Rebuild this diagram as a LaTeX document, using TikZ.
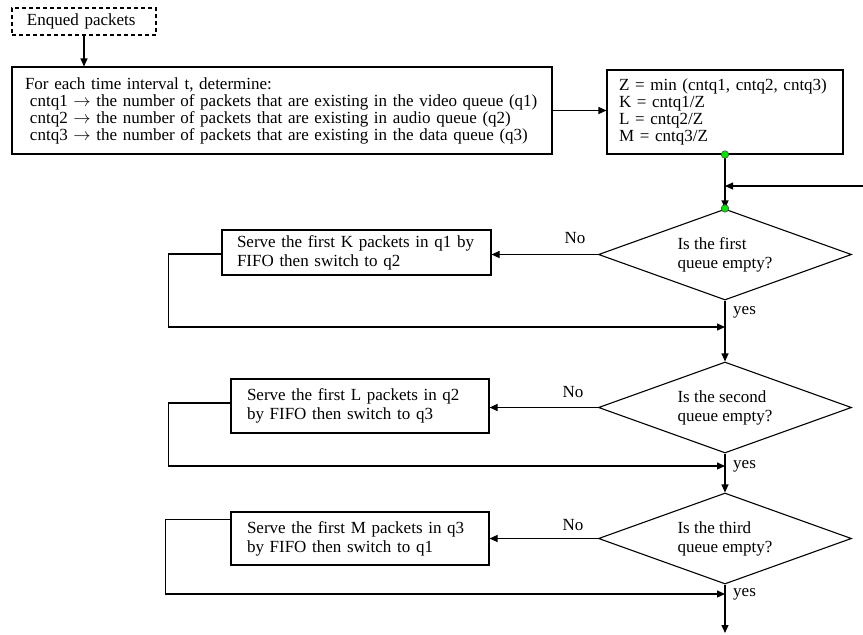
\documentclass[tikz,border=0pt]{standalone}
\usepackage{fontspec}
\setmainfont{Liberation Serif}
\usetikzlibrary{shapes.geometric,arrows.meta}
\definecolor{dotgreen}{RGB}{0,230,0}
\tikzset{
  txt/.style={font=\fontsize{17}{19}\selectfont},
  tight/.style={font=\fontsize{17}{17}\selectfont},
  box/.style={draw, rectangle, line width=1.1pt, inner sep=0pt, align=left, txt},
  dec/.style={draw, diamond, aspect=2.78, line width=1.1pt, minimum width=253pt, minimum height=91pt, inner sep=0pt, align=left, txt},
  arr/.style={draw, line width=1.1pt, -{Triangle[length=8pt,width=7pt]}},
  gdot/.style={circle, fill=dotgreen, draw=black!70, line width=0.6pt, minimum size=7.5pt, inner sep=0pt},
  lab/.style={txt, inner sep=0pt}
}
\begin{document}
\begin{tikzpicture}[x=1pt,y=-1pt]
\useasboundingbox (0,0) rectangle (863,635);

\node[box, dashed, dash pattern=on 4pt off 3pt, minimum width=144pt, minimum height=27pt, text width=114pt] (enq) at (84,21.5) {Enqued packets};

\node[box, tight, minimum width=540pt, minimum height=87pt, text width=514pt] (cnt) at (282,110.5)
 {For each time interval t, determine:\\
  \hspace*{5pt}cntq1 $\rightarrow$ the number of packets that are existing in the video queue (q1)\\
  \hspace*{5pt}cntq2 $\rightarrow$ the number of packets that are existing in audio queue (q2)\\
  \hspace*{5pt}cntq3 $\rightarrow$ the number of packets that are existing in the data queue (q3)};

\node[box, tight, minimum width=236pt, minimum height=84pt, text width=212pt] (zb) at (725,112)
 {Z = min (cntq1, cntq2, cntq3)\\K = cntq1/Z\\L = cntq2/Z\\M = cntq3/Z};

\node[dec] (d1) at (725,254.5) {Is the first\\queue empty?};
\node[dec] (d2) at (725,407.5) {Is the second\\queue empty?};
\node[dec] (d3) at (725,538.5) {Is the third\\queue empty?};

\node[box, minimum width=269pt, minimum height=45pt, text width=239pt] (b1) at (356.5,252.5)
 {Serve the first K packets in q1 by\\FIFO then switch to q2};
\node[box, minimum width=258pt, minimum height=54pt, text width=226pt] (b2) at (360,406)
 {Serve the first L packets in q2\\by FIFO then switch to q3};
\node[box, minimum width=258pt, minimum height=53pt, text width=226pt] (b3) at (360,538.5)
 {Serve the first M packets in q3\\by FIFO then switch to q1};

\coordinate (in) at (863,186);
\coordinate (j1) at (725,327);
\coordinate (j2) at (725,466);
\coordinate (j3) at (725,594);
\coordinate (fin) at (725,633);

\draw[arr] (enq.south) -- (enq.south |- cnt.north);
\draw[arr] (cnt.east) -- (cnt.east -| zb.west);
\draw[arr] (zb.south) -- (d1.north);
\draw[arr] (in) -- (in -| d1.north);
\draw[arr] (d1.west) -- (d1.west -| b1.east);
\draw[arr] (d1.south) -- (d2.north);
\draw[arr] (d2.west) -- (d2.west -| b2.east);
\draw[arr] (d2.south) -- (d3.north);
\draw[arr] (d3.west) -- (d3.west -| b3.east);
\draw[arr] (d3.south) -- (fin);
\draw[arr] ([yshift=-1.5pt]b1.west) -- ++(-53,0) |- (j1);
\draw[arr] ([yshift=3pt]b2.west) -- ++(-62,0) |- (j2);
\draw[arr] ([yshift=-8pt]b3.north west) -- ++(-65,0) |- (j3);

\node[gdot] (g1) at (zb.south) {};
\node[gdot] (g2) at (d1.north) {};

\node[lab] (no1) at (575,238) {No};
\node[lab] (no2) at (573,392) {No};
\node[lab] (no3) at (573,525) {No};
\node[lab, anchor=west] (y1) at (733,312) {yes};
\node[lab, anchor=west] (y2) at (733,466) {yes};
\node[lab, anchor=west] (y3) at (733,594) {yes};
\end{tikzpicture}
\end{document}
